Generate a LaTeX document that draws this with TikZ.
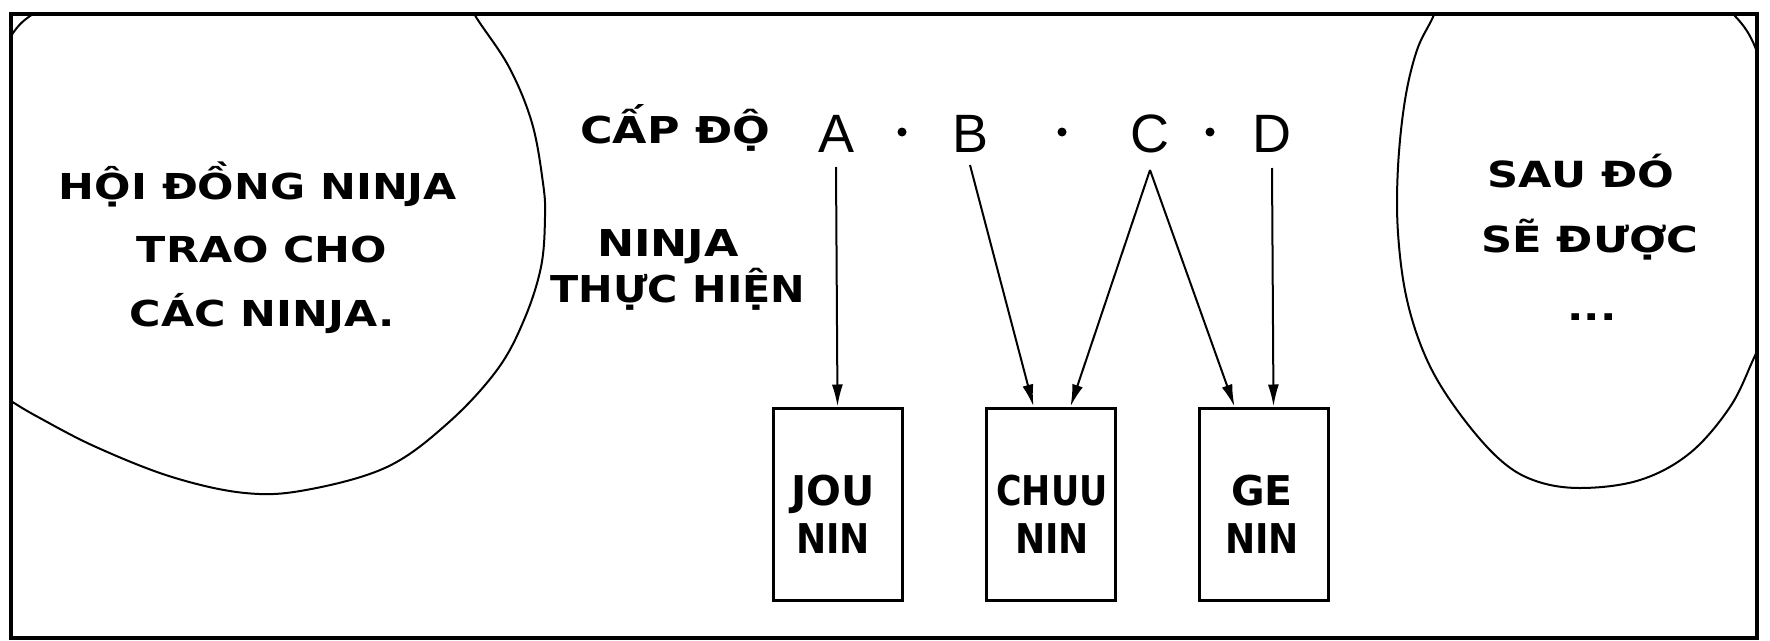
\documentclass[tikz,border=0pt]{standalone}
\usepackage{fontspec}
\usepackage{graphicx}
\usetikzlibrary{arrows.meta}
\newfontfamily\comicfont[FakeStretch=1.2]{DejaVu Sans}
\newfontfamily\comicnarrow{DejaVu Sans}
\newfontfamily\letterfont{Liberation Sans}
\begin{document}
\begin{tikzpicture}[x=1pt,y=-1pt,
  bubbletxt/.style={font={\comicfont\bfseries\fontsize{35.7}{40}\selectfont}, inner sep=0pt, anchor=base},
  sidetxt/.style={font={\comicfont\bfseries\fontsize{37}{40}\selectfont}, inner sep=0pt, anchor=base},
  righttxt/.style={font={\comicfont\bfseries\fontsize{36}{40}\selectfont}, inner sep=0pt, anchor=base},
  boxtxt/.style={font={\comicnarrow\bfseries\fontsize{41}{44}\selectfont}, inner sep=0pt, anchor=base},
  abcd/.style={font={\letterfont\fontsize{54}{60}\selectfont}, inner sep=0pt, anchor=base},
  rankbox/.style={draw, line width=3pt, minimum width=129pt, minimum height=192pt, inner sep=0pt},
  arr/.style={-{Latex[length=22pt,width=11pt]}, line width=2pt},
  bubble/.style={line width=2pt},
  frameline/.style={line width=4.5pt}
]
\useasboundingbox (0,0) rectangle (1770,640);
\fill[white] (0,0) rectangle (1770,640);

% speech bubbles, clipped by the panel
\begin{scope}
\clip (11,14) rectangle (1757,638);
\draw[bubble] plot[smooth, tension=0.6] coordinates {
  (462,-10) (476,17) (509,67) (532,123) (543,183) (545,217) (541,267)
  (524,320) (497,370) (448,423) (387,467) (306,490) (245,493) (172,477)
  (96,447) (38,417) (11,401) (-5,390)};
\draw[bubble] (11,36) to[bend left=12] (33,14);
\draw[bubble] plot[smooth, tension=0.6] coordinates {
  (1442,-8) (1433,17) (1417,50) (1405,100) (1398,167) (1398,233)
  (1407,300) (1427,360) (1457,410) (1497,457) (1533,480) (1580,488)
  (1640,480) (1690,453) (1730,407) (1753,360) (1766,330)};
\draw[bubble] (1733,14) to[bend left=12] (1757,52);
\end{scope}

% panel frame
\draw[frameline] (11,14) rectangle (1757,638);

% left bubble text
\node[bubbletxt] (l1) at (258,199) {HỘI ĐỒNG NINJA};
\node[bubbletxt] (l2) at (262,262) {TRAO CHO};
\node[bubbletxt] (l3) at (262,326) {CÁC NINJA.};

% right bubble text
\node[righttxt] (r1) at (1581,187) {SAU ĐÓ};
\node[righttxt] (r2) at (1590,252) {SẼ ĐƯỢC};
\node[righttxt] (r3) at (1592,320) {...};

% labels
\node[sidetxt] (cap) at (675,143) {CẤP ĐỘ};
\node[sidetxt] (nj1) at (668,256) {NINJA};
\node[sidetxt] (nj2) at (678,302) {\scalebox{0.93}[1]{THỰC HIỆN}};

% grade letters
\node[abcd] (A) at (836,152) {A};
\node[abcd] (B) at (970,152) {B};
\node[abcd] (C) at (1150,152) {C};
\node[abcd] (D) at (1272,152) {D};
\fill (902,132) circle (4.5pt);
\fill (1062,132) circle (4.5pt);
\fill (1210,132) circle (4.5pt);

% rank boxes
\node[rankbox] (jou) at (837.5,504) {};
\node[rankbox] (chu) at (1050.5,504) {};
\node[rankbox] (gen) at (1263.5,504) {};

\node[boxtxt] (jout) at (833,505) {JOU};
\node[boxtxt] (joub) at (833,553) {\scalebox{0.88}[1]{NIN}};
\node[boxtxt] (chut) at (1052,505) {\scalebox{0.85}[1]{CHUU}};
\node[boxtxt] (chub) at (1052,553) {\scalebox{0.88}[1]{NIN}};
\node[boxtxt] (gent) at (1262,505) {GE};
\node[boxtxt] (genb) at (1262,553) {\scalebox{0.88}[1]{NIN}};

% connectors
\draw[arr] ([yshift=-15pt]A.base) -- (jou.north);
\draw[arr] ([yshift=-13pt]B.base) -- ([xshift=-17pt]chu.north);
\draw[arr] ([yshift=-18pt]C.base) -- ([xshift=20pt]chu.north);
\draw[arr] ([yshift=-18pt]C.base) -- ([xshift=-29pt]gen.north);
\draw[arr] ([yshift=-16pt]D.base) -- ([xshift=10pt]gen.north);
\end{tikzpicture}
\end{document}
